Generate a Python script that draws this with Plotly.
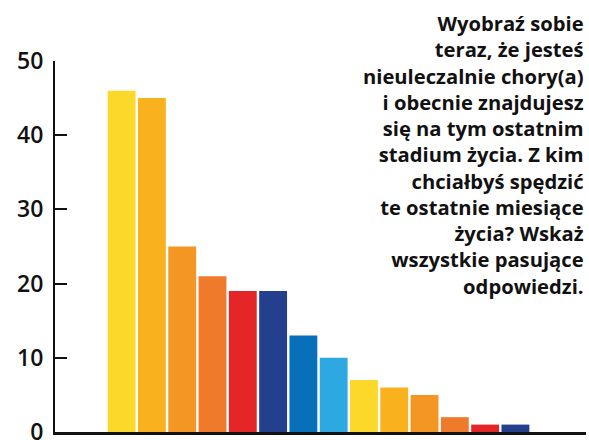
import plotly.graph_objects as go

positions = list(range(14))
values = [46, 45, 25, 21, 19, 19, 13, 10, 7, 6, 5, 2, 1, 1]
colors = ["#FCD82A", "#F9B21E", "#F39623", "#F07A2B", "#E52629", "#233F8E", "#0870B8",
          "#2DA8E1", "#FCD82A", "#F9B21E", "#F39623", "#F07A2B", "#E52629", "#233F8E"]
y_ticks = [0, 10, 20, 30, 40, 50]
question = ("Wyobraź sobie<br>teraz, że jesteś<br>nieuleczalnie chory(a)<br>i obecnie znajdujesz<br>"
            "się na tym ostatnim<br>stadium życia. Z kim<br>chciałbyś spędzić<br>te ostatnie miesiące<br>"
            "życia? Wskaż<br>wszystkie pasujące<br>odpowiedzi.")

fig = go.Figure(go.Bar(x=positions, y=values, marker=dict(color=colors, line=dict(width=0)),
                       width=0.92, hoverinfo="y"))

fig.update_layout(
    width=589, height=440,
    margin=dict(l=55, r=3, t=61, b=8),
    paper_bgcolor="white", plot_bgcolor="white",
    showlegend=False,
    font=dict(family="Open Sans", color="#111111"),
    bargap=0.08,
)
fig.update_xaxes(range=[-2.2, 15.33], showgrid=False, zeroline=False, automargin=False,
                 showline=True, linecolor="#111111", linewidth=3,
                 tickvals=[15.33], ticks="inside", ticklen=9, tickwidth=2, tickcolor="#111111",
                 showticklabels=False)
fig.update_yaxes(range=[0, 50], showgrid=False, zeroline=False, automargin=False,
                 showline=True, linecolor="#111111", linewidth=2,
                 tickvals=y_ticks, ticks="inside", ticklen=12, tickwidth=2, tickcolor="#111111",
                 tickfont=dict(size=23, family="Open Sans", weight=600, color="#111111"),
                 ticklabelstandoff=5, ticklabeloverflow="allow")
fig.add_annotation(text=question, xref="paper", yref="paper", x=1.0, y=1.145,
                   xanchor="right", yanchor="top", align="right", showarrow=False,
                   font=dict(size=20.2, family="Open Sans", weight=700, color="#111111"))

fig.write_html("out.html", config={"displayModeBar": False},
               post_script="document.body.style.margin='0';document.body.style.overflow='hidden';")
